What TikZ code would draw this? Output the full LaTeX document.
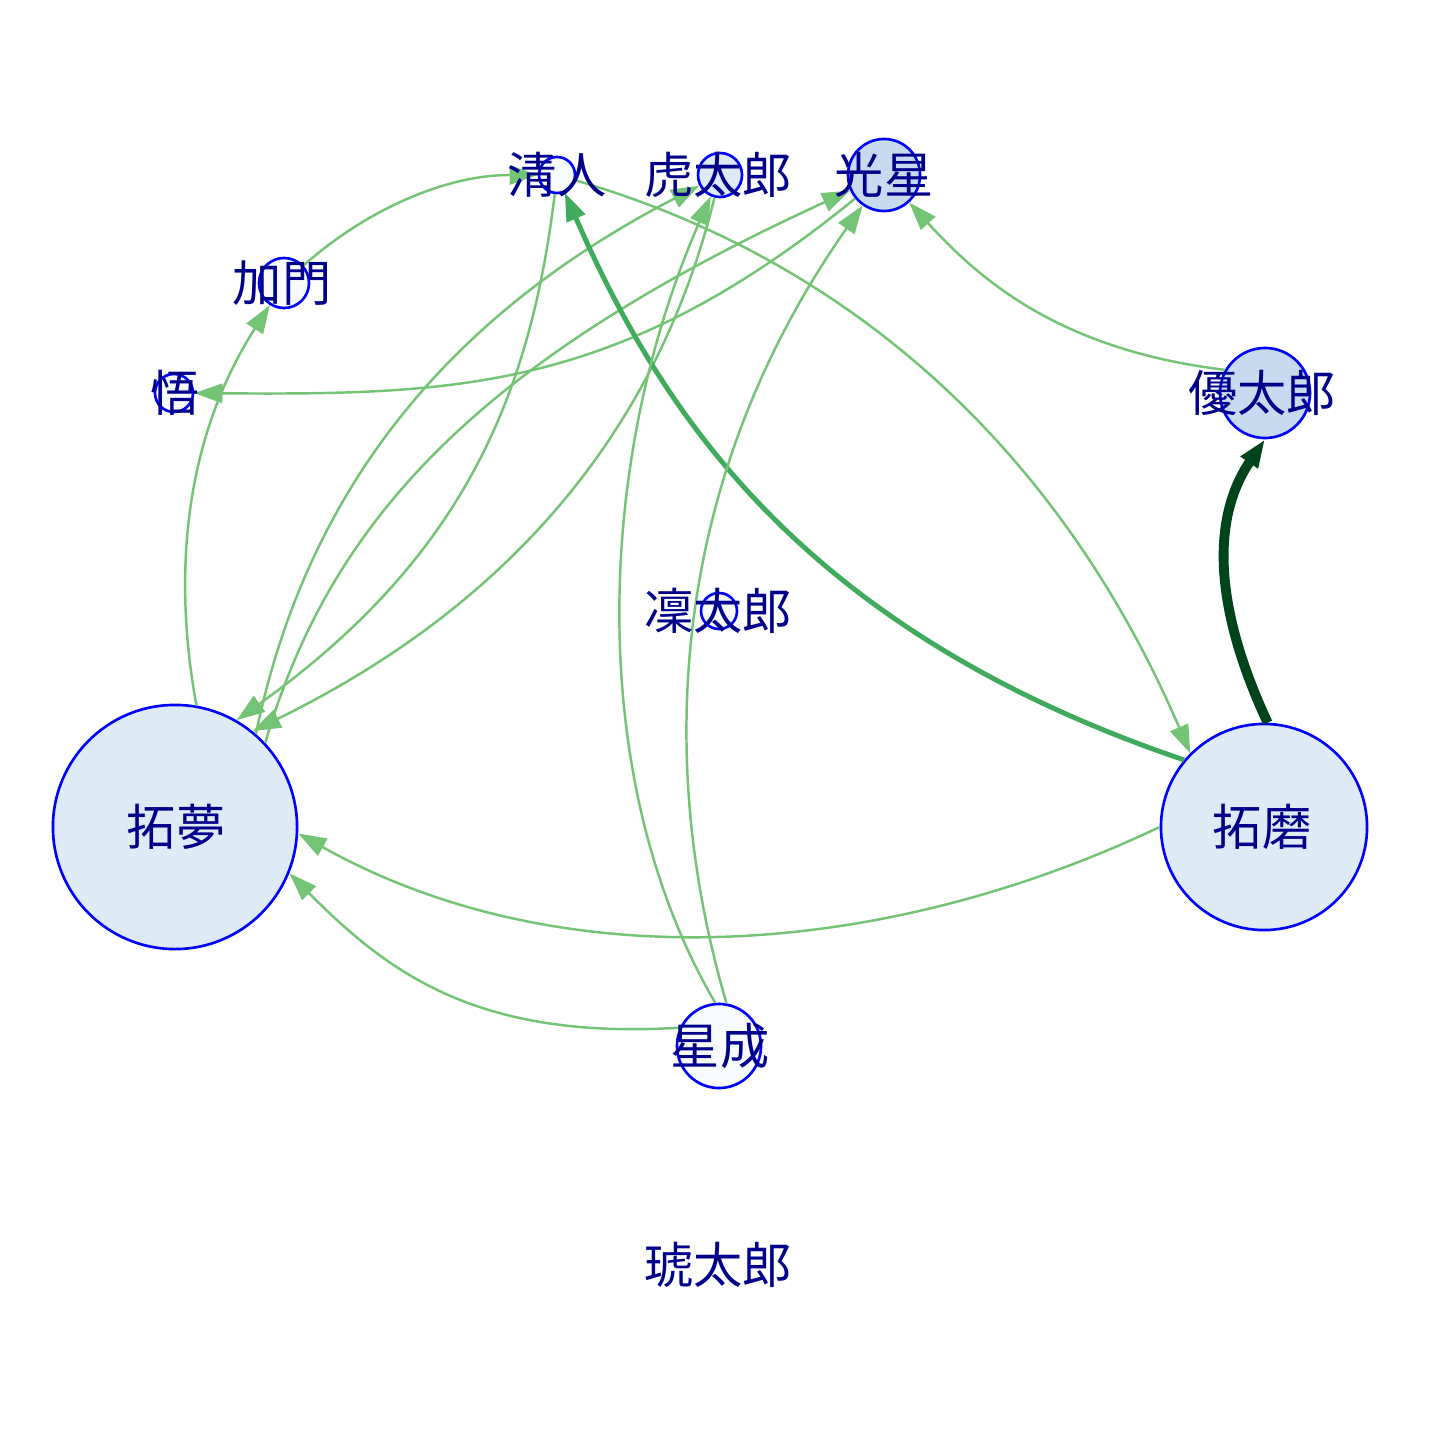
\documentclass[tikz,border=0pt]{standalone}
\usepackage{fontspec}
\newfontfamily\cjk{Noto Sans CJK JP}
\usetikzlibrary{arrows.meta}
\definecolor{vfill0}{HTML}{F7FBFF}
\definecolor{vfill1}{HTML}{DEEBF7}
\definecolor{vfill2}{HTML}{C6DBEF}
\definecolor{elight}{HTML}{74C476}
\definecolor{emid}{HTML}{41AB5D}
\definecolor{edark}{HTML}{00441B}
\definecolor{lblcol}{HTML}{00008B}
\begin{document}
\begin{tikzpicture}[x=0.01cm,y=-0.01cm,
    vtx/.style={circle,draw=blue,line width=0.75pt,inner sep=0pt},
    lbl/.style={text=lblcol,font=\cjk\fontsize{14}{16}\selectfont,inner sep=0pt},
    edge/.style={draw=elight,line width=0.7pt,-{Triangle[length=8pt,width=5.5pt]}}]

	\fill[white] (0,0) rectangle (1440,1440);
	\useasboundingbox (0,0) rectangle (1440,1440);

	\node[vtx,fill=vfill0,minimum size=0.36cm] (kiyoto) at (557,175) {};
	\node[vtx,fill=vfill1,minimum size=0.44cm] (toratarou) at (720,175) {};
	\node[vtx,fill=vfill2,minimum size=0.72cm] (kosei) at (884,175) {};
	\node[vtx,fill=vfill0,minimum size=0.5cm] (kamon) at (284,283) {};
	\node[vtx,fill=vfill0,minimum size=0.38cm] (satoru) at (174,393) {};
	\node[vtx,fill=vfill2,minimum size=0.9cm] (yuutarou) at (1265,393) {};
	\node[vtx,fill=vfill0,minimum size=0.36cm] (rintarou) at (719,611) {};
	\node[vtx,fill=vfill1,minimum size=2.44cm] (tomu) at (175,827) {};
	\node[vtx,fill=vfill1,minimum size=2.06cm] (takuma) at (1264,827) {};
	\node[vtx,fill=vfill0,minimum size=0.84cm] (seisei) at (719,1046) {};

	\draw[edge] (kamon) .. controls (360,215) and (440,175) .. (kiyoto);
	\draw[edge] (tomu.80) .. controls (170,560) and (190,430) .. (kamon);
	\draw[edge] (kosei) .. controls (620,390) and (460,395) .. (satoru);
	\draw[edge] (kiyoto) .. controls (530,400) and (460,560) .. (tomu.60);
	\draw[edge] (tomu.49) .. controls (300,520) and (420,330) .. (toratarou);
	\draw[edge] (toratarou) .. controls (660,420) and (520,600) .. (tomu.51);
	\draw[edge] (tomu.43) .. controls (330,520) and (480,360) .. (kosei);
	\draw[edge] (kiyoto) .. controls (850,260) and (1060,450) .. (takuma.135);
	\draw[edge,draw=emid,line width=1.4pt] (takuma.140) .. controls (800,630) and (660,410) .. (kiyoto);
	\draw[edge] (yuutarou.150) .. controls (1060,350) and (980,280) .. (kosei);
	\draw[edge,draw=edark,line width=2.8pt] (takuma.88) .. controls (1215,610) and (1210,520) .. (yuutarou.-90);
	\draw[edge] (takuma.180) .. controls (880,960) and (560,980) .. (tomu.-3);
	\draw[edge] (seisei.155) .. controls (480,1040) and (390,975) .. (tomu.-22);
	\draw[edge] (seisei.95) .. controls (585,780) and (595,460) .. (toratarou);
	\draw[edge] (seisei.80) .. controls (655,760) and (670,480) .. (kosei);

	\node[lbl] (l-kiyoto) at (557,175) {清人};
	\node[lbl] (l-toratarou) at (718,175) {虎太郎};
	\node[lbl] (l-kosei) at (884,175) {光星};
	\node[lbl] (l-kamon) at (282,283) {加門};
	\node[lbl] (l-satoru) at (175,393) {悟};
	\node[lbl] (l-yuutarou) at (1262,393) {優太郎};
	\node[lbl] (l-rintarou) at (718,611) {凜太郎};
	\node[lbl] (l-tomu) at (176,827) {拓夢};
	\node[lbl] (l-takuma) at (1262,827) {拓磨};
	\node[lbl] (l-seisei) at (720,1046) {星成};
	\node[lbl] (l-kotarou) at (718,1265) {琥太郎};

\end{tikzpicture}
\end{document}
